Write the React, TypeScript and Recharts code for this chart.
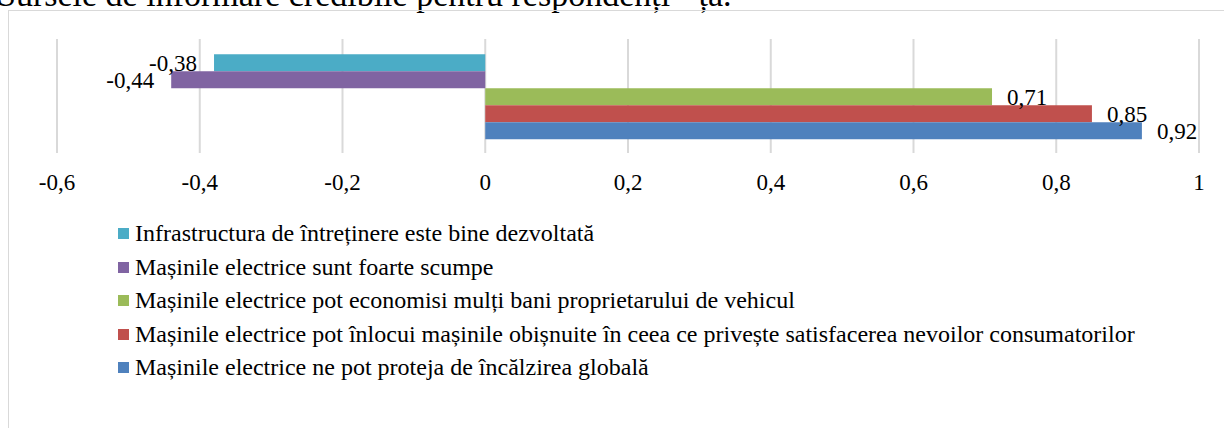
import React from 'react';
import { BarChart, Bar, XAxis, YAxis, CartesianGrid, LabelList } from 'recharts';

/* -------------------------------------------------------
   DATA
-------------------------------------------------------- */
const seriesNames = [
  'Infrastructura de întreținere este bine dezvoltată',
  'Mașinile electrice sunt foarte scumpe',
  'Mașinile electrice pot economisi mulți bani proprietarului de vehicul',
  'Mașinile electrice pot înlocui mașinile obișnuite în ceea ce privește satisfacerea nevoilor consumatorilor',
  'Mașinile electrice ne pot proteja de încălzirea globală',
];
const seriesValues = [-0.38, -0.44, 0.71, 0.85, 0.92];
const seriesColors = ['#4BACC6', '#8064A2', '#9BBB59', '#C0504D', '#4F81BD'];
const xTicks = [-0.6, -0.4, -0.2, 0, 0.2, 0.4, 0.6, 0.8, 1];
const titleText = 'Sursele de informare credibile pentru respondenți - ța.';

const FONT = "'Liberation Serif', Tinos, 'Times New Roman', 'DejaVu Serif', serif";
const FS = 23; // ticks + data labels
const LEGEND_FS = 24;
const TITLE_FS = 34;

const fmt = (v: number) => String(v).replace('.', ',');

// one category row holding every series
const chartData = [
  seriesNames.reduce<Record<string, string | number>>(
    (row, name, i) => {
      row[`s${i}`] = seriesValues[i];
      return row;
    },
    { name: 'all' }
  ),
];

/* -------------------------------------------------------
   LABEL: outside end of the bar, both directions
-------------------------------------------------------- */
const EndLabel = (props: any) => {
  const { x, y, width, height, value } = props;
  const left = Math.min(x, x + width);
  const right = Math.max(x, x + width);
  const cy = y + height / 2;
  const neg = value < 0;
  return (
    <text
      x={neg ? left - 17 : right + 15}
      y={cy}
      dy="0.34em"
      textAnchor={neg ? 'end' : 'start'}
      style={{ fontSize: FS, fontFamily: FONT }}
      fill="#000"
    >
      {fmt(value)}
    </text>
  );
};

/* -------------------------------------------------------
   COMPONENT
-------------------------------------------------------- */
export default function App() {
  const legendTop = 241.5;
  const legendStep = 33.5;

  return (
    <div
      style={{
        position: 'absolute',
        left: 0,
        top: 0,
        width: 1224,
        height: 428,
        overflow: 'hidden',
        background: '#fff',
        fontFamily: FONT,
      }}
    >
      {/* title, cut by the top edge like in the source page */}
      <div
        style={{
          position: 'absolute',
          left: -3,
          top: -22,
          fontSize: TITLE_FS,
          lineHeight: `${TITLE_FS}px`,
          whiteSpace: 'nowrap',
          color: '#000',
        }}
      >
        {titleText}
      </div>

      <div
        style={{
          position: 'absolute',
          left: 8,
          top: 10,
          width: 1240,
          height: 440,
          border: '1px solid #d9d9d9',
        }}
      />

      <div style={{ position: 'absolute', left: 0, top: 0, fontFamily: FONT }}>
        <BarChart
          width={1224}
          height={428}
          layout="vertical"
          data={chartData}
          margin={{ top: 39, right: 25, left: 57, bottom: 235 }}
          barCategoryGap="13.4%"
          barGap={0}
          style={{ fontFamily: FONT }}
        >
          <CartesianGrid horizontal={false} stroke="#d9d9d9" strokeWidth={2} />
          <XAxis
            type="number"
            domain={[-0.6, 1]}
            ticks={xTicks}
            interval={0}
            axisLine={false}
            tickLine={false}
            tickMargin={15}
            height={40}
            tickFormatter={fmt}
            tick={{ fill: '#000', fontSize: FS, style: { fontFamily: FONT } }}
          />
          <YAxis type="category" dataKey="name" hide />
          {seriesNames.map((name, i) => (
            <Bar
              key={name}
              dataKey={`s${i}`}
              name={name}
              fill={seriesColors[i]}
              isAnimationActive={false}
            >
              <LabelList dataKey={`s${i}`} content={<EndLabel />} />
            </Bar>
          ))}
        </BarChart>
      </div>

      {seriesNames.map((name, i) => {
        const base = legendTop + i * legendStep;
        return (
          <React.Fragment key={name}>
            <div
              style={{
                position: 'absolute',
                left: 118,
                top: base - 13.5,
                width: 11,
                height: 11,
                background: seriesColors[i],
              }}
            />
            <div
              style={{
                position: 'absolute',
                left: 135,
                top: base - 20.1,
                fontSize: LEGEND_FS,
                lineHeight: `${LEGEND_FS}px`,
                whiteSpace: 'nowrap',
                color: '#000',
              }}
            >
              {name}
            </div>
          </React.Fragment>
        );
      })}
    </div>
  );
}
